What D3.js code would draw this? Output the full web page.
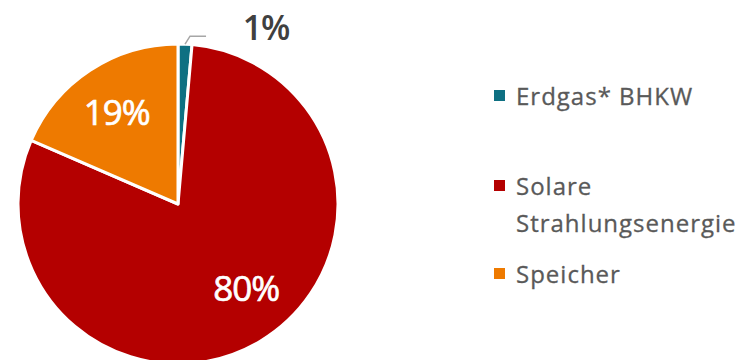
<!DOCTYPE html>
<html>
<head>
<meta charset="utf-8">
<script src="https://cdn.jsdelivr.net/npm/d3@7"></script>
<style>
  body { margin: 0; background: #fff; }
  svg { font-family: "Open Sans", "Noto Sans", sans-serif; }
</style>
</head>
<body>
<div id="chart"></div>
<script>
// chart data
const categories = ["Erdgas* BHKW", "Solare Strahlungsenergie", "Speicher"];
const shares = [1.4, 80.1, 18.5];
const shareLabels = ["1%", "80%", "19%"];
const colors = ["#0E7082", "#B40000", "#EE7A00"];
const legendLines = [["Erdgas* BHKW"], ["Solare", "Strahlungsenergie"], ["Speicher"]];

const width = 742, height = 360;
const cx = 178, cy = 204, radius = 160;
// small nudges so the inside labels sit where the original put them
const labelNudge = [[0, 0], [13, -8], [-2, -1]];

const svg = d3.select("#chart")
  .append("svg")
  .attr("width", width)
  .attr("height", height);

const data = categories.map((c, i) => ({ name: c, value: shares[i], label: shareLabels[i], color: colors[i] }));

const pie = d3.pie().value(d => d.value).sort(null);
const arcs = pie(data);

const arc = d3.arc().innerRadius(0).outerRadius(radius);
const labelArc = d3.arc().innerRadius(108).outerRadius(108);

const g = svg.append("g")
  .attr("transform", "translate(" + cx + "," + cy + ")");

g.selectAll("path.slice")
  .data(arcs)
  .enter()
  .append("path")
  .attr("class", "slice")
  .attr("d", arc)
  .attr("fill", d => d.data.color)
  .attr("stroke", "#fff")
  .attr("stroke-width", 3)
  .attr("stroke-linejoin", "round");

// inside labels for the big slices
g.selectAll("text.inside")
  .data(arcs.filter(d => d.data.value > 5))
  .enter()
  .append("text")
  .attr("class", "inside")
  .attr("transform", d => {
    const c = labelArc.centroid(d);
    const n = labelNudge[d.index];
    return "translate(" + (c[0] + n[0]) + "," + (c[1] + n[1]) + ")";
  })
  .attr("text-anchor", "middle")
  .attr("dy", "0.36em")
  .attr("fill", "#fff")
  .attr("stroke", "#fff")
  .attr("stroke-width", 0.7)
  .style("font-size", "35px")
  .style("letter-spacing", "-1px")
  .text(d => d.data.label);

// small slice: outside label with leader line
const small = arcs[0];
const mid = (small.startAngle + small.endAngle) / 2;
const p0 = [Math.sin(mid) * radius, -Math.cos(mid) * radius];
const p1 = [p0[0] + 5, p0[1] - 8];
const p2 = [p1[0] + 16, p1[1]];
g.append("polyline")
  .attr("points", [p0, p1, p2].map(p => p.join(",")).join(" "))
  .attr("fill", "none")
  .attr("stroke", "#A6A6A6")
  .attr("stroke-width", 1.5);
g.append("text")
  .attr("x", p2[0] + 60)
  .attr("y", p2[1] + 4)
  .attr("text-anchor", "middle")
  .attr("fill", "#404040")
  .style("font-size", "34px")
  .style("font-weight", "600")
  .style("letter-spacing", "-1px")
  .text(small.data.label);

// legend
const legendY = [105, 195, 283];
const legend = svg.append("g").attr("class", "legend");
data.forEach((d, i) => {
  const item = legend.append("g").attr("transform", "translate(494," + legendY[i] + ")");
  item.append("rect")
    .attr("x", 0)
    .attr("y", -15)
    .attr("width", 11)
    .attr("height", 11)
    .attr("fill", d.color);
  const t = item.append("text")
    .attr("x", 22)
    .attr("y", 0)
    .attr("fill", "#595959")
    .attr("stroke", "#595959")
    .attr("stroke-width", 0.3)
    .style("font-size", "24px")
    .style("letter-spacing", "1px");
  legendLines[i].forEach((line, j) => {
    t.append("tspan").attr("x", 22).attr("dy", j === 0 ? 0 : 37).text(line);
  });
});
</script>
</body>
</html>
